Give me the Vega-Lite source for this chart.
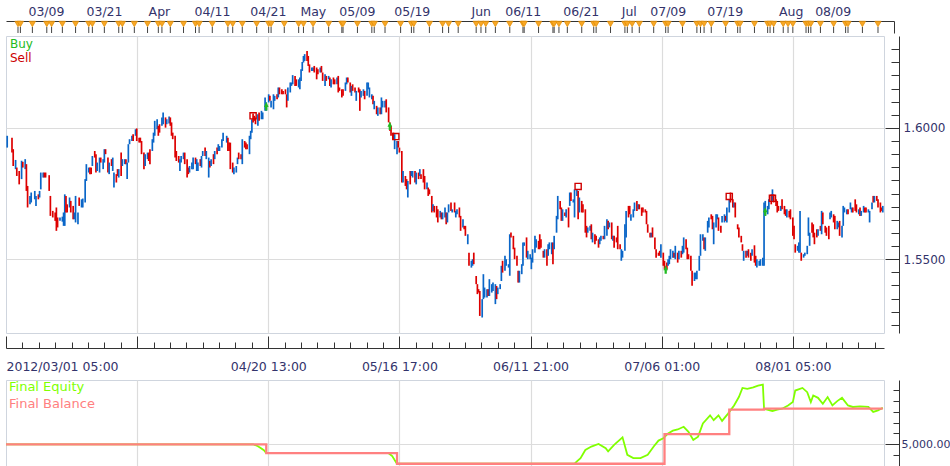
{
"$schema":"https://vega.github.io/schema/vega-lite/v6.json",
"padding":{"left":0,"top":5,"right":0,"bottom":0},
"background":"white",
"spacing":1,
"resolve":{"scale":{"color":"independent","shape":"independent","stroke":"independent"},"legend":{"color":"independent","shape":"independent","stroke":"independent"}},
"config":{"view":{"stroke":"#cfd5de","strokeWidth":1},"font":"DejaVu Sans","axis":{"labelFont":"DejaVu Sans"},"legend":{"labelFont":"DejaVu Sans"}},
"datasets":{
"events":[{"i":10},{"i":12},{"i":22},{"i":34},{"i":38},{"i":47},{"i":58},{"i":69},{"i":72},{"i":82},{"i":94},{"i":97},{"i":107},{"i":118},{"i":127},{"i":130},{"i":137},{"i":148},{"i":158},{"i":161},{"i":172},{"i":185},{"i":189},{"i":197},{"i":209},{"i":219},{"i":221},{"i":232},{"i":244},{"i":248},{"i":256},{"i":269},{"i":280},{"i":281},{"i":293},{"i":305},{"i":307},{"i":316},{"i":329},{"i":338},{"i":340},{"i":353},{"i":364},{"i":369},{"i":377},{"i":392},{"i":396},{"i":400},{"i":408},{"i":420},{"i":431},{"i":432},{"i":444},{"i":456},{"i":457},{"i":461},{"i":468},{"i":480},{"i":490},{"i":492},{"i":504},{"i":516},{"i":518},{"i":522},{"i":528},{"i":540},{"i":550},{"i":552},{"i":564},{"i":576},{"i":579},{"i":582},{"i":588},{"i":600},{"i":610},{"i":612},{"i":624},{"i":635},{"i":637},{"i":640},{"i":648},{"i":652},{"i":656},{"i":667},{"i":669},{"i":671},{"i":679},{"i":690},{"i":700},{"i":702},{"i":714},{"i":727}],
"trades":[{"i":217,"p":1.6081,"type":"Buy"},{"i":320,"p":1.6006,"type":"Buy"},{"i":550,"p":1.5459,"type":"Buy"},{"i":633,"p":1.5680,"type":"Buy"},{"i":206,"p":1.6046,"type":"Sell"},{"i":325,"p":1.5967,"type":"Sell"},{"i":477,"p":1.5777,"type":"Sell"},{"i":603,"p":1.5739,"type":"Sell"},{"i":639,"p":1.5732,"type":"Sell"}],
"equity":[{"i":0,"v":5000,"s":"Final Equity"},{"i":206,"v":5000,"s":"Final Equity"},{"i":210,"v":4982,"s":"Final Equity"},{"i":212,"v":4968,"s":"Final Equity"},{"i":215,"v":4945,"s":"Final Equity"},{"i":217,"v":4918,"s":"Final Equity"},{"i":319,"v":4918,"s":"Final Equity"},{"i":322,"v":4891,"s":"Final Equity"},{"i":324,"v":4855,"s":"Final Equity"},{"i":326,"v":4821,"s":"Final Equity"},{"i":474,"v":4821,"s":"Final Equity"},{"i":476,"v":4843,"s":"Final Equity"},{"i":479,"v":4873,"s":"Final Equity"},{"i":483,"v":4948,"s":"Final Equity"},{"i":488,"v":4979,"s":"Final Equity"},{"i":494,"v":5003,"s":"Final Equity"},{"i":500,"v":4964,"s":"Final Equity"},{"i":502,"v":4934,"s":"Final Equity"},{"i":507,"v":4994,"s":"Final Equity"},{"i":514,"v":5064,"s":"Final Equity"},{"i":518,"v":4903,"s":"Final Equity"},{"i":523,"v":4873,"s":"Final Equity"},{"i":529,"v":4873,"s":"Final Equity"},{"i":535,"v":4903,"s":"Final Equity"},{"i":540,"v":4979,"s":"Final Equity"},{"i":544,"v":5034,"s":"Final Equity"},{"i":548,"v":5055,"s":"Final Equity"},{"i":552,"v":5100,"s":"Final Equity"},{"i":556,"v":5125,"s":"Final Equity"},{"i":560,"v":5136,"s":"Final Equity"},{"i":565,"v":5161,"s":"Final Equity"},{"i":569,"v":5115,"s":"Final Equity"},{"i":573,"v":5039,"s":"Final Equity"},{"i":577,"v":5070,"s":"Final Equity"},{"i":581,"v":5191,"s":"Final Equity"},{"i":587,"v":5266,"s":"Final Equity"},{"i":590,"v":5221,"s":"Final Equity"},{"i":594,"v":5266,"s":"Final Equity"},{"i":597,"v":5215,"s":"Final Equity"},{"i":602,"v":5282,"s":"Final Equity"},{"i":607,"v":5357,"s":"Final Equity"},{"i":611,"v":5434,"s":"Final Equity"},{"i":614,"v":5518,"s":"Final Equity"},{"i":618,"v":5509,"s":"Final Equity"},{"i":623,"v":5524,"s":"Final Equity"},{"i":627,"v":5539,"s":"Final Equity"},{"i":631,"v":5548,"s":"Final Equity"},{"i":632,"v":5327,"s":"Final Equity"},{"i":639,"v":5306,"s":"Final Equity"},{"i":643,"v":5318,"s":"Final Equity"},{"i":647,"v":5327,"s":"Final Equity"},{"i":652,"v":5357,"s":"Final Equity"},{"i":656,"v":5388,"s":"Final Equity"},{"i":658,"v":5494,"s":"Final Equity"},{"i":664,"v":5518,"s":"Final Equity"},{"i":668,"v":5479,"s":"Final Equity"},{"i":671,"v":5388,"s":"Final Equity"},{"i":673,"v":5448,"s":"Final Equity"},{"i":677,"v":5427,"s":"Final Equity"},{"i":681,"v":5373,"s":"Final Equity"},{"i":685,"v":5434,"s":"Final Equity"},{"i":689,"v":5357,"s":"Final Equity"},{"i":693,"v":5397,"s":"Final Equity"},{"i":697,"v":5427,"s":"Final Equity"},{"i":702,"v":5357,"s":"Final Equity"},{"i":706,"v":5343,"s":"Final Equity"},{"i":712,"v":5348,"s":"Final Equity"},{"i":719,"v":5343,"s":"Final Equity"},{"i":723,"v":5297,"s":"Final Equity"},{"i":727,"v":5312,"s":"Final Equity"},{"i":731,"v":5336,"s":"Final Equity"}],
"balance":[{"i":0,"v":5000,"s":"Final Balance"},{"i":217,"v":4918,"s":"Final Balance"},{"i":326,"v":4821,"s":"Final Balance"},{"i":549,"v":5094,"s":"Final Balance"},{"i":603,"v":5318,"s":"Final Balance"},{"i":632,"v":5327,"s":"Final Balance"},{"i":731,"v":5327,"s":"Final Balance"}],
"bars":[
{"i":1,"h":1.5970,"l":1.5925,"d":"up"},{"i":5,"h":1.5963,"l":1.5906,"d":"down"},{"i":6,"h":1.5919,"l":1.5855,"d":"down"},{"i":8,"h":1.5878,"l":1.5843,"d":"up"},{"i":9,"h":1.5849,"l":1.5817,"d":"down"},{"i":11,"h":1.5836,"l":1.5785,"d":"down"},{"i":13,"h":1.5875,"l":1.5805,"d":"up"},{"i":14,"h":1.5871,"l":1.5849,"d":"down"},{"i":16,"h":1.5881,"l":1.5843,"d":"up"},{"i":17,"h":1.5862,"l":1.5760,"d":"down"},
{"i":18,"h":1.5779,"l":1.5697,"d":"down"},{"i":20,"h":1.5741,"l":1.5709,"d":"up"},{"i":21,"h":1.5754,"l":1.5716,"d":"up"},{"i":24,"h":1.5760,"l":1.5728,"d":"up"},{"i":25,"h":1.5741,"l":1.5703,"d":"up"},{"i":27,"h":1.5747,"l":1.5728,"d":"down"},{"i":28,"h":1.5760,"l":1.5735,"d":"up"},{"i":29,"h":1.5830,"l":1.5766,"d":"up"},{"i":31,"h":1.5830,"l":1.5811,"d":"up"},{"i":32,"h":1.5830,"l":1.5811,"d":"down"},
{"i":33,"h":1.5830,"l":1.5811,"d":"down"},{"i":36,"h":1.5820,"l":1.5760,"d":"down"},{"i":37,"h":1.5741,"l":1.5665,"d":"down"},{"i":39,"h":1.5684,"l":1.5659,"d":"down"},{"i":41,"h":1.5678,"l":1.5646,"d":"down"},{"i":42,"h":1.5697,"l":1.5608,"d":"down"},{"i":43,"h":1.5659,"l":1.5621,"d":"down"},{"i":45,"h":1.5659,"l":1.5646,"d":"up"},{"i":47,"h":1.5662,"l":1.5643,"d":"up"},{"i":48,"h":1.5678,"l":1.5627,"d":"up"},
{"i":49,"h":1.5747,"l":1.5627,"d":"up"},{"i":50,"h":1.5741,"l":1.5678,"d":"down"},{"i":51,"h":1.5709,"l":1.5678,"d":"down"},{"i":53,"h":1.5735,"l":1.5697,"d":"up"},{"i":54,"h":1.5722,"l":1.5678,"d":"down"},{"i":56,"h":1.5703,"l":1.5652,"d":"down"},{"i":57,"h":1.5678,"l":1.5652,"d":"up"},{"i":58,"h":1.5741,"l":1.5640,"d":"up"},{"i":60,"h":1.5678,"l":1.5633,"d":"up"},{"i":61,"h":1.5735,"l":1.5703,"d":"down"},
{"i":63,"h":1.5728,"l":1.5697,"d":"up"},{"i":64,"h":1.5731,"l":1.5697,"d":"up"},{"i":66,"h":1.5805,"l":1.5716,"d":"up"},{"i":67,"h":1.5862,"l":1.5798,"d":"up"},{"i":69,"h":1.5849,"l":1.5830,"d":"up"},{"i":70,"h":1.5849,"l":1.5824,"d":"down"},{"i":71,"h":1.5849,"l":1.5824,"d":"down"},{"i":72,"h":1.5893,"l":1.5855,"d":"up"},{"i":74,"h":1.5912,"l":1.5887,"d":"down"},{"i":75,"h":1.5900,"l":1.5830,"d":"down"},
{"i":76,"h":1.5868,"l":1.5836,"d":"up"},{"i":78,"h":1.5887,"l":1.5830,"d":"up"},{"i":79,"h":1.5887,"l":1.5868,"d":"down"},{"i":81,"h":1.5881,"l":1.5843,"d":"up"},{"i":82,"h":1.5919,"l":1.5868,"d":"up"},{"i":83,"h":1.5919,"l":1.5900,"d":"down"},{"i":85,"h":1.5887,"l":1.5830,"d":"down"},{"i":86,"h":1.5868,"l":1.5824,"d":"up"},{"i":88,"h":1.5881,"l":1.5855,"d":"down"},{"i":89,"h":1.5887,"l":1.5836,"d":"up"},
{"i":90,"h":1.5830,"l":1.5773,"d":"up"},{"i":92,"h":1.5824,"l":1.5792,"d":"down"},{"i":93,"h":1.5843,"l":1.5817,"d":"down"},{"i":94,"h":1.5843,"l":1.5811,"d":"up"},{"i":96,"h":1.5906,"l":1.5817,"d":"down"},{"i":97,"h":1.5881,"l":1.5855,"d":"up"},{"i":99,"h":1.5881,"l":1.5862,"d":"up"},{"i":100,"h":1.5881,"l":1.5862,"d":"down"},{"i":101,"h":1.5868,"l":1.5805,"d":"up"},{"i":102,"h":1.5938,"l":1.5868,"d":"up"},
{"i":103,"h":1.5957,"l":1.5938,"d":"up"},{"i":105,"h":1.5970,"l":1.5950,"d":"up"},{"i":106,"h":1.5976,"l":1.5950,"d":"down"},{"i":108,"h":1.5995,"l":1.5970,"d":"up"},{"i":109,"h":1.5998,"l":1.5950,"d":"down"},{"i":111,"h":1.5963,"l":1.5944,"d":"down"},{"i":112,"h":1.5963,"l":1.5944,"d":"down"},{"i":113,"h":1.5950,"l":1.5900,"d":"down"},{"i":115,"h":1.5906,"l":1.5843,"d":"down"},{"i":116,"h":1.5900,"l":1.5855,"d":"up"},
{"i":118,"h":1.5906,"l":1.5881,"d":"up"},{"i":119,"h":1.5906,"l":1.5874,"d":"down"},{"i":120,"h":1.5919,"l":1.5862,"d":"down"},{"i":122,"h":1.5957,"l":1.5912,"d":"up"},{"i":123,"h":1.5982,"l":1.5944,"d":"up"},{"i":124,"h":1.6027,"l":1.5970,"d":"up"},{"i":126,"h":1.6033,"l":1.5995,"d":"up"},{"i":127,"h":1.6008,"l":1.5970,"d":"down"},{"i":128,"h":1.6014,"l":1.5982,"d":"down"},{"i":130,"h":1.6040,"l":1.6008,"d":"up"},
{"i":131,"h":1.6059,"l":1.6014,"d":"up"},{"i":133,"h":1.6040,"l":1.6001,"d":"down"},{"i":134,"h":1.6033,"l":1.6014,"d":"up"},{"i":136,"h":1.6043,"l":1.6017,"d":"up"},{"i":137,"h":1.6040,"l":1.6008,"d":"down"},{"i":138,"h":1.6021,"l":1.5970,"d":"down"},{"i":139,"h":1.5982,"l":1.5957,"d":"down"},{"i":141,"h":1.5970,"l":1.5887,"d":"down"},{"i":142,"h":1.5912,"l":1.5874,"d":"down"},{"i":144,"h":1.5893,"l":1.5868,"d":"down"},
{"i":145,"h":1.5881,"l":1.5836,"d":"up"},{"i":146,"h":1.5893,"l":1.5868,"d":"up"},{"i":148,"h":1.5906,"l":1.5881,"d":"up"},{"i":149,"h":1.5906,"l":1.5862,"d":"down"},{"i":151,"h":1.5881,"l":1.5811,"d":"down"},{"i":152,"h":1.5849,"l":1.5824,"d":"down"},{"i":153,"h":1.5855,"l":1.5830,"d":"up"},{"i":155,"h":1.5868,"l":1.5843,"d":"up"},{"i":156,"h":1.5887,"l":1.5843,"d":"up"},{"i":158,"h":1.5887,"l":1.5862,"d":"down"},
{"i":159,"h":1.5881,"l":1.5836,"d":"up"},{"i":160,"h":1.5868,"l":1.5836,"d":"up"},{"i":162,"h":1.5881,"l":1.5855,"d":"down"},{"i":163,"h":1.5893,"l":1.5849,"d":"up"},{"i":164,"h":1.5912,"l":1.5893,"d":"up"},{"i":166,"h":1.5925,"l":1.5893,"d":"down"},{"i":167,"h":1.5912,"l":1.5881,"d":"up"},{"i":169,"h":1.5887,"l":1.5811,"d":"up"},{"i":170,"h":1.5874,"l":1.5849,"d":"down"},{"i":171,"h":1.5881,"l":1.5855,"d":"up"},
{"i":173,"h":1.5900,"l":1.5862,"d":"down"},{"i":174,"h":1.5912,"l":1.5881,"d":"up"},{"i":176,"h":1.5925,"l":1.5900,"d":"down"},{"i":177,"h":1.5938,"l":1.5912,"d":"up"},{"i":178,"h":1.5931,"l":1.5912,"d":"up"},{"i":180,"h":1.5957,"l":1.5925,"d":"up"},{"i":181,"h":1.5982,"l":1.5950,"d":"up"},{"i":184,"h":1.5970,"l":1.5944,"d":"up"},{"i":185,"h":1.5963,"l":1.5912,"d":"down"},{"i":186,"h":1.5944,"l":1.5912,"d":"down"},
{"i":187,"h":1.5944,"l":1.5843,"d":"down"},{"i":189,"h":1.5868,"l":1.5830,"d":"down"},{"i":190,"h":1.5849,"l":1.5824,"d":"up"},{"i":192,"h":1.5855,"l":1.5830,"d":"up"},{"i":193,"h":1.5887,"l":1.5862,"d":"up"},{"i":194,"h":1.5906,"l":1.5881,"d":"down"},{"i":196,"h":1.5900,"l":1.5881,"d":"down"},{"i":197,"h":1.5957,"l":1.5862,"d":"up"},{"i":199,"h":1.5950,"l":1.5925,"d":"down"},{"i":200,"h":1.5944,"l":1.5919,"d":"down"},
{"i":201,"h":1.5938,"l":1.5919,"d":"down"},{"i":203,"h":1.5970,"l":1.5900,"d":"up"},{"i":204,"h":1.5989,"l":1.5957,"d":"up"},{"i":205,"h":1.6033,"l":1.5982,"d":"up"},{"i":206,"h":1.6055,"l":1.6021,"d":"down"},{"i":207,"h":1.6046,"l":1.6027,"d":"down"},{"i":208,"h":1.6040,"l":1.6014,"d":"down"},{"i":210,"h":1.6052,"l":1.6008,"d":"up"},{"i":211,"h":1.6059,"l":1.6027,"d":"down"},{"i":213,"h":1.6065,"l":1.6033,"d":"up"},
{"i":214,"h":1.6059,"l":1.6033,"d":"up"},{"i":216,"h":1.6116,"l":1.6065,"d":"up"},{"i":217,"h":1.6097,"l":1.6065,"d":"up"},{"i":219,"h":1.6128,"l":1.6097,"d":"up"},{"i":220,"h":1.6122,"l":1.6103,"d":"down"},{"i":221,"h":1.6103,"l":1.6078,"d":"up"},{"i":223,"h":1.6128,"l":1.6071,"d":"up"},{"i":224,"h":1.6122,"l":1.6103,"d":"up"},{"i":226,"h":1.6128,"l":1.6109,"d":"down"},{"i":227,"h":1.6154,"l":1.6116,"d":"up"},
{"i":228,"h":1.6154,"l":1.6128,"d":"down"},{"i":230,"h":1.6147,"l":1.6128,"d":"down"},{"i":231,"h":1.6141,"l":1.6128,"d":"down"},{"i":233,"h":1.6147,"l":1.6128,"d":"down"},{"i":234,"h":1.6128,"l":1.6078,"d":"down"},{"i":235,"h":1.6154,"l":1.6103,"d":"up"},{"i":237,"h":1.6173,"l":1.6135,"d":"up"},{"i":238,"h":1.6173,"l":1.6160,"d":"up"},{"i":239,"h":1.6201,"l":1.6166,"d":"up"},{"i":241,"h":1.6198,"l":1.6160,"d":"down"},
{"i":242,"h":1.6185,"l":1.6160,"d":"down"},{"i":244,"h":1.6185,"l":1.6154,"d":"up"},{"i":245,"h":1.6192,"l":1.6147,"d":"up"},{"i":246,"h":1.6223,"l":1.6179,"d":"up"},{"i":247,"h":1.6251,"l":1.6217,"d":"up"},{"i":248,"h":1.6274,"l":1.6249,"d":"up"},{"i":249,"h":1.6281,"l":1.6255,"d":"up"},{"i":251,"h":1.6293,"l":1.6255,"d":"down"},{"i":252,"h":1.6274,"l":1.6236,"d":"down"},{"i":253,"h":1.6242,"l":1.6211,"d":"down"},
{"i":255,"h":1.6230,"l":1.6217,"d":"up"},{"i":256,"h":1.6230,"l":1.6217,"d":"up"},{"i":257,"h":1.6236,"l":1.6211,"d":"down"},{"i":259,"h":1.6230,"l":1.6185,"d":"down"},{"i":260,"h":1.6223,"l":1.6204,"d":"down"},{"i":262,"h":1.6230,"l":1.6211,"d":"up"},{"i":263,"h":1.6236,"l":1.6211,"d":"down"},{"i":264,"h":1.6211,"l":1.6179,"d":"down"},{"i":266,"h":1.6204,"l":1.6160,"d":"up"},{"i":267,"h":1.6198,"l":1.6179,"d":"down"},
{"i":269,"h":1.6198,"l":1.6185,"d":"up"},{"i":270,"h":1.6192,"l":1.6160,"d":"down"},{"i":271,"h":1.6185,"l":1.6154,"d":"up"},{"i":273,"h":1.6192,"l":1.6166,"d":"down"},{"i":274,"h":1.6185,"l":1.6166,"d":"down"},{"i":276,"h":1.6192,"l":1.6166,"d":"up"},{"i":277,"h":1.6198,"l":1.6135,"d":"down"},{"i":278,"h":1.6154,"l":1.6141,"d":"down"},{"i":280,"h":1.6147,"l":1.6116,"d":"down"},{"i":281,"h":1.6147,"l":1.6122,"d":"down"},
{"i":283,"h":1.6173,"l":1.6141,"d":"up"},{"i":284,"h":1.6192,"l":1.6166,"d":"up"},{"i":285,"h":1.6192,"l":1.6173,"d":"down"},{"i":287,"h":1.6173,"l":1.6135,"d":"down"},{"i":288,"h":1.6160,"l":1.6122,"d":"up"},{"i":289,"h":1.6166,"l":1.6141,"d":"down"},{"i":291,"h":1.6154,"l":1.6135,"d":"down"},{"i":292,"h":1.6141,"l":1.6103,"d":"up"},{"i":294,"h":1.6154,"l":1.6135,"d":"down"},{"i":295,"h":1.6147,"l":1.6065,"d":"down"},
{"i":296,"h":1.6141,"l":1.6116,"d":"up"},{"i":298,"h":1.6147,"l":1.6122,"d":"up"},{"i":299,"h":1.6141,"l":1.6109,"d":"down"},{"i":301,"h":1.6173,"l":1.6122,"d":"up"},{"i":302,"h":1.6173,"l":1.6147,"d":"up"},{"i":303,"h":1.6154,"l":1.6116,"d":"up"},{"i":305,"h":1.6128,"l":1.6109,"d":"up"},{"i":306,"h":1.6122,"l":1.6090,"d":"down"},{"i":307,"h":1.6103,"l":1.6071,"d":"up"},{"i":309,"h":1.6084,"l":1.6052,"d":"down"},
{"i":310,"h":1.6078,"l":1.6046,"d":"up"},{"i":312,"h":1.6078,"l":1.6052,"d":"down"},{"i":313,"h":1.6116,"l":1.6052,"d":"up"},{"i":314,"h":1.6103,"l":1.6078,"d":"up"},{"i":316,"h":1.6103,"l":1.6078,"d":"up"},{"i":317,"h":1.6109,"l":1.6059,"d":"down"},{"i":319,"h":1.6078,"l":1.6021,"d":"down"},{"i":320,"h":1.6021,"l":1.5989,"d":"down"},{"i":321,"h":1.6008,"l":1.5970,"d":"down"},{"i":323,"h":1.5982,"l":1.5957,"d":"down"},
{"i":324,"h":1.5976,"l":1.5919,"d":"up"},{"i":326,"h":1.5950,"l":1.5900,"d":"up"},{"i":327,"h":1.5950,"l":1.5925,"d":"down"},{"i":328,"h":1.5925,"l":1.5906,"d":"down"},{"i":330,"h":1.5912,"l":1.5792,"d":"down"},{"i":331,"h":1.5836,"l":1.5792,"d":"up"},{"i":333,"h":1.5817,"l":1.5779,"d":"down"},{"i":334,"h":1.5805,"l":1.5766,"d":"down"},{"i":335,"h":1.5798,"l":1.5735,"d":"up"},{"i":337,"h":1.5836,"l":1.5785,"d":"down"},
{"i":338,"h":1.5836,"l":1.5817,"d":"up"},{"i":339,"h":1.5836,"l":1.5811,"d":"up"},{"i":341,"h":1.5836,"l":1.5792,"d":"down"},{"i":342,"h":1.5830,"l":1.5785,"d":"up"},{"i":344,"h":1.5830,"l":1.5805,"d":"down"},{"i":345,"h":1.5843,"l":1.5817,"d":"up"},{"i":346,"h":1.5824,"l":1.5805,"d":"down"},{"i":348,"h":1.5843,"l":1.5792,"d":"down"},{"i":349,"h":1.5817,"l":1.5766,"d":"down"},{"i":351,"h":1.5792,"l":1.5766,"d":"up"},
{"i":352,"h":1.5773,"l":1.5741,"d":"down"},{"i":353,"h":1.5766,"l":1.5747,"d":"down"},{"i":355,"h":1.5741,"l":1.5678,"d":"down"},{"i":356,"h":1.5709,"l":1.5684,"d":"up"},{"i":357,"h":1.5703,"l":1.5678,"d":"down"},{"i":359,"h":1.5703,"l":1.5659,"d":"down"},{"i":360,"h":1.5690,"l":1.5640,"d":"down"},{"i":362,"h":1.5684,"l":1.5659,"d":"up"},{"i":363,"h":1.5678,"l":1.5652,"d":"down"},{"i":364,"h":1.5678,"l":1.5652,"d":"up"},
{"i":366,"h":1.5697,"l":1.5659,"d":"up"},{"i":367,"h":1.5678,"l":1.5633,"d":"down"},{"i":368,"h":1.5678,"l":1.5640,"d":"up"},{"i":369,"h":1.5709,"l":1.5678,"d":"up"},{"i":371,"h":1.5716,"l":1.5684,"d":"down"},{"i":372,"h":1.5690,"l":1.5678,"d":"up"},{"i":374,"h":1.5716,"l":1.5678,"d":"down"},{"i":375,"h":1.5684,"l":1.5659,"d":"up"},{"i":376,"h":1.5690,"l":1.5671,"d":"up"},{"i":378,"h":1.5697,"l":1.5659,"d":"down"},
{"i":379,"h":1.5665,"l":1.5608,"d":"down"},{"i":381,"h":1.5652,"l":1.5621,"d":"up"},{"i":382,"h":1.5627,"l":1.5614,"d":"down"},{"i":383,"h":1.5627,"l":1.5589,"d":"down"},{"i":385,"h":1.5595,"l":1.5557,"d":"up"},{"i":386,"h":1.5525,"l":1.5475,"d":"down"},{"i":388,"h":1.5494,"l":1.5468,"d":"up"},{"i":389,"h":1.5500,"l":1.5475,"d":"up"},{"i":390,"h":1.5525,"l":1.5481,"d":"down"},{"i":392,"h":1.5436,"l":1.5405,"d":"down"},
{"i":393,"h":1.5405,"l":1.5367,"d":"down"},{"i":394,"h":1.5386,"l":1.5373,"d":"down"},{"i":395,"h":1.5379,"l":1.5284,"d":"down"},{"i":397,"h":1.5348,"l":1.5278,"d":"up"},{"i":398,"h":1.5443,"l":1.5348,"d":"up"},{"i":399,"h":1.5392,"l":1.5354,"d":"up"},{"i":401,"h":1.5386,"l":1.5354,"d":"up"},{"i":402,"h":1.5386,"l":1.5360,"d":"down"},{"i":403,"h":1.5424,"l":1.5360,"d":"up"},{"i":405,"h":1.5405,"l":1.5373,"d":"up"},
{"i":406,"h":1.5411,"l":1.5379,"d":"up"},{"i":408,"h":1.5405,"l":1.5329,"d":"up"},{"i":409,"h":1.5398,"l":1.5348,"d":"down"},{"i":410,"h":1.5392,"l":1.5367,"d":"up"},{"i":412,"h":1.5405,"l":1.5386,"d":"up"},{"i":413,"h":1.5475,"l":1.5417,"d":"up"},{"i":414,"h":1.5494,"l":1.5449,"d":"down"},{"i":416,"h":1.5513,"l":1.5456,"d":"up"},{"i":417,"h":1.5500,"l":1.5475,"d":"up"},{"i":419,"h":1.5481,"l":1.5468,"d":"up"},
{"i":420,"h":1.5595,"l":1.5437,"d":"up"},{"i":421,"h":1.5602,"l":1.5583,"d":"down"},{"i":423,"h":1.5589,"l":1.5538,"d":"down"},{"i":424,"h":1.5544,"l":1.5500,"d":"down"},{"i":426,"h":1.5513,"l":1.5475,"d":"down"},{"i":427,"h":1.5456,"l":1.5411,"d":"down"},{"i":428,"h":1.5456,"l":1.5411,"d":"up"},{"i":430,"h":1.5481,"l":1.5443,"d":"up"},{"i":431,"h":1.5564,"l":1.5475,"d":"up"},{"i":432,"h":1.5564,"l":1.5551,"d":"up"},
{"i":434,"h":1.5583,"l":1.5506,"d":"down"},{"i":435,"h":1.5532,"l":1.5500,"d":"up"},{"i":437,"h":1.5519,"l":1.5500,"d":"up"},{"i":438,"h":1.5506,"l":1.5462,"d":"up"},{"i":439,"h":1.5538,"l":1.5487,"d":"up"},{"i":441,"h":1.5589,"l":1.5525,"d":"up"},{"i":442,"h":1.5576,"l":1.5544,"d":"up"},{"i":444,"h":1.5570,"l":1.5538,"d":"down"},{"i":445,"h":1.5595,"l":1.5538,"d":"down"},{"i":446,"h":1.5576,"l":1.5544,"d":"down"},
{"i":448,"h":1.5532,"l":1.5506,"d":"down"},{"i":449,"h":1.5538,"l":1.5506,"d":"up"},{"i":451,"h":1.5538,"l":1.5475,"d":"down"},{"i":452,"h":1.5557,"l":1.5513,"d":"up"},{"i":453,"h":1.5564,"l":1.5538,"d":"up"},{"i":455,"h":1.5564,"l":1.5519,"d":"up"},{"i":456,"h":1.5564,"l":1.5481,"d":"down"},{"i":457,"h":1.5589,"l":1.5538,"d":"up"},{"i":459,"h":1.5665,"l":1.5601,"d":"up"},{"i":460,"h":1.5741,"l":1.5652,"d":"up"},
{"i":462,"h":1.5722,"l":1.5690,"d":"down"},{"i":463,"h":1.5697,"l":1.5646,"d":"down"},{"i":464,"h":1.5690,"l":1.5646,"d":"up"},{"i":466,"h":1.5678,"l":1.5665,"d":"down"},{"i":467,"h":1.5690,"l":1.5659,"d":"up"},{"i":469,"h":1.5697,"l":1.5621,"d":"down"},{"i":470,"h":1.5754,"l":1.5703,"d":"up"},{"i":471,"h":1.5754,"l":1.5722,"d":"down"},{"i":473,"h":1.5728,"l":1.5716,"d":"up"},{"i":474,"h":1.5766,"l":1.5659,"d":"up"},
{"i":476,"h":1.5766,"l":1.5741,"d":"up"},{"i":477,"h":1.5760,"l":1.5652,"d":"down"},{"i":478,"h":1.5735,"l":1.5678,"d":"up"},{"i":480,"h":1.5722,"l":1.5678,"d":"down"},{"i":481,"h":1.5709,"l":1.5678,"d":"down"},{"i":483,"h":1.5690,"l":1.5601,"d":"down"},{"i":484,"h":1.5627,"l":1.5583,"d":"down"},{"i":485,"h":1.5621,"l":1.5601,"d":"up"},{"i":487,"h":1.5627,"l":1.5608,"d":"up"},{"i":488,"h":1.5633,"l":1.5576,"d":"down"},
{"i":489,"h":1.5601,"l":1.5564,"d":"up"},{"i":491,"h":1.5595,"l":1.5557,"d":"down"},{"i":492,"h":1.5589,"l":1.5570,"d":"down"},{"i":494,"h":1.5576,"l":1.5544,"d":"down"},{"i":495,"h":1.5583,"l":1.5557,"d":"up"},{"i":496,"h":1.5589,"l":1.5570,"d":"up"},{"i":498,"h":1.5589,"l":1.5576,"d":"down"},{"i":499,"h":1.5627,"l":1.5576,"d":"up"},{"i":501,"h":1.5652,"l":1.5589,"d":"up"},{"i":502,"h":1.5646,"l":1.5614,"d":"down"},
{"i":503,"h":1.5640,"l":1.5621,"d":"up"},{"i":505,"h":1.5640,"l":1.5576,"d":"down"},{"i":506,"h":1.5589,"l":1.5570,"d":"up"},{"i":507,"h":1.5589,"l":1.5544,"d":"down"},{"i":509,"h":1.5583,"l":1.5564,"d":"down"},{"i":510,"h":1.5627,"l":1.5538,"d":"down"},{"i":512,"h":1.5557,"l":1.5538,"d":"down"},{"i":513,"h":1.5538,"l":1.5494,"d":"up"},{"i":514,"h":1.5532,"l":1.5506,"d":"up"},{"i":516,"h":1.5633,"l":1.5532,"d":"up"},
{"i":517,"h":1.5684,"l":1.5583,"d":"up"},{"i":519,"h":1.5703,"l":1.5659,"d":"down"},{"i":520,"h":1.5703,"l":1.5671,"d":"down"},{"i":521,"h":1.5671,"l":1.5646,"d":"up"},{"i":523,"h":1.5690,"l":1.5659,"d":"up"},{"i":524,"h":1.5716,"l":1.5684,"d":"up"},{"i":526,"h":1.5722,"l":1.5684,"d":"down"},{"i":527,"h":1.5709,"l":1.5690,"d":"up"},{"i":528,"h":1.5709,"l":1.5690,"d":"down"},{"i":530,"h":1.5697,"l":1.5665,"d":"down"},
{"i":531,"h":1.5697,"l":1.5678,"d":"down"},{"i":533,"h":1.5690,"l":1.5678,"d":"down"},{"i":534,"h":1.5684,"l":1.5633,"d":"down"},{"i":535,"h":1.5633,"l":1.5601,"d":"down"},{"i":537,"h":1.5601,"l":1.5583,"d":"down"},{"i":538,"h":1.5601,"l":1.5583,"d":"up"},{"i":539,"h":1.5621,"l":1.5583,"d":"down"},{"i":541,"h":1.5583,"l":1.5538,"d":"down"},{"i":542,"h":1.5538,"l":1.5506,"d":"down"},{"i":544,"h":1.5525,"l":1.5513,"d":"down"},
{"i":545,"h":1.5532,"l":1.5513,"d":"down"},{"i":546,"h":1.5557,"l":1.5506,"d":"up"},{"i":548,"h":1.5525,"l":1.5475,"d":"down"},{"i":549,"h":1.5494,"l":1.5462,"d":"down"},{"i":551,"h":1.5487,"l":1.5462,"d":"down"},{"i":552,"h":1.5500,"l":1.5475,"d":"up"},{"i":553,"h":1.5513,"l":1.5481,"d":"up"},{"i":554,"h":1.5538,"l":1.5500,"d":"up"},{"i":556,"h":1.5532,"l":1.5506,"d":"up"},{"i":557,"h":1.5525,"l":1.5506,"d":"down"},
{"i":558,"h":1.5551,"l":1.5500,"d":"up"},{"i":560,"h":1.5525,"l":1.5487,"d":"down"},{"i":561,"h":1.5532,"l":1.5500,"d":"up"},{"i":563,"h":1.5532,"l":1.5506,"d":"down"},{"i":564,"h":1.5551,"l":1.5519,"d":"up"},{"i":565,"h":1.5583,"l":1.5525,"d":"up"},{"i":567,"h":1.5576,"l":1.5538,"d":"down"},{"i":568,"h":1.5544,"l":1.5500,"d":"down"},{"i":569,"h":1.5519,"l":1.5500,"d":"down"},{"i":571,"h":1.5513,"l":1.5456,"d":"down"},
{"i":572,"h":1.5456,"l":1.5399,"d":"down"},{"i":574,"h":1.5449,"l":1.5417,"d":"up"},{"i":575,"h":1.5449,"l":1.5424,"d":"up"},{"i":576,"h":1.5456,"l":1.5424,"d":"up"},{"i":578,"h":1.5513,"l":1.5456,"d":"up"},{"i":579,"h":1.5595,"l":1.5513,"d":"up"},{"i":581,"h":1.5595,"l":1.5570,"d":"up"},{"i":582,"h":1.5583,"l":1.5538,"d":"down"},{"i":583,"h":1.5583,"l":1.5532,"d":"up"},{"i":585,"h":1.5646,"l":1.5601,"d":"up"},
{"i":586,"h":1.5659,"l":1.5621,"d":"up"},{"i":588,"h":1.5671,"l":1.5652,"d":"down"},{"i":589,"h":1.5665,"l":1.5614,"d":"down"},{"i":590,"h":1.5640,"l":1.5557,"d":"up"},{"i":592,"h":1.5671,"l":1.5621,"d":"up"},{"i":593,"h":1.5671,"l":1.5652,"d":"up"},{"i":594,"h":1.5659,"l":1.5608,"d":"down"},{"i":596,"h":1.5627,"l":1.5601,"d":"down"},{"i":597,"h":1.5665,"l":1.5640,"d":"up"},{"i":599,"h":1.5671,"l":1.5640,"d":"up"},
{"i":600,"h":1.5665,"l":1.5646,"d":"down"},{"i":601,"h":1.5697,"l":1.5640,"d":"up"},{"i":603,"h":1.5728,"l":1.5678,"d":"up"},{"i":604,"h":1.5754,"l":1.5716,"d":"down"},{"i":606,"h":1.5728,"l":1.5697,"d":"down"},{"i":607,"h":1.5716,"l":1.5697,"d":"up"},{"i":608,"h":1.5716,"l":1.5659,"d":"down"},{"i":610,"h":1.5633,"l":1.5614,"d":"down"},{"i":611,"h":1.5621,"l":1.5583,"d":"down"},{"i":613,"h":1.5589,"l":1.5564,"d":"down"},
{"i":614,"h":1.5557,"l":1.5532,"d":"down"},{"i":615,"h":1.5532,"l":1.5494,"d":"up"},{"i":617,"h":1.5532,"l":1.5506,"d":"down"},{"i":618,"h":1.5532,"l":1.5513,"d":"up"},{"i":619,"h":1.5538,"l":1.5506,"d":"down"},{"i":621,"h":1.5525,"l":1.5494,"d":"down"},{"i":622,"h":1.5538,"l":1.5513,"d":"up"},{"i":624,"h":1.5553,"l":1.5487,"d":"down"},{"i":625,"h":1.5513,"l":1.5475,"d":"down"},{"i":626,"h":1.5500,"l":1.5468,"d":"up"},
{"i":628,"h":1.5494,"l":1.5475,"d":"up"},{"i":629,"h":1.5500,"l":1.5475,"d":"up"},{"i":631,"h":1.5506,"l":1.5475,"d":"up"},{"i":632,"h":1.5716,"l":1.5475,"d":"up"},{"i":633,"h":1.5722,"l":1.5665,"d":"up"},{"i":635,"h":1.5703,"l":1.5671,"d":"up"},{"i":636,"h":1.5728,"l":1.5690,"d":"up"},{"i":638,"h":1.5747,"l":1.5709,"d":"down"},{"i":639,"h":1.5766,"l":1.5722,"d":"up"},{"i":640,"h":1.5747,"l":1.5716,"d":"down"},
{"i":642,"h":1.5728,"l":1.5703,"d":"down"},{"i":643,"h":1.5722,"l":1.5678,"d":"down"},{"i":644,"h":1.5703,"l":1.5684,"d":"down"},{"i":646,"h":1.5703,"l":1.5684,"d":"up"},{"i":647,"h":1.5728,"l":1.5690,"d":"down"},{"i":649,"h":1.5703,"l":1.5671,"d":"down"},{"i":650,"h":1.5690,"l":1.5665,"d":"down"},{"i":651,"h":1.5690,"l":1.5659,"d":"up"},{"i":653,"h":1.5684,"l":1.5659,"d":"down"},{"i":654,"h":1.5690,"l":1.5652,"d":"down"},
{"i":656,"h":1.5659,"l":1.5589,"d":"down"},{"i":657,"h":1.5627,"l":1.5576,"d":"down"},{"i":658,"h":1.5557,"l":1.5525,"d":"down"},{"i":660,"h":1.5551,"l":1.5532,"d":"up"},{"i":661,"h":1.5564,"l":1.5525,"d":"up"},{"i":662,"h":1.5684,"l":1.5525,"d":"up"},{"i":663,"h":1.5525,"l":1.5494,"d":"down"},{"i":665,"h":1.5519,"l":1.5506,"d":"up"},{"i":666,"h":1.5525,"l":1.5513,"d":"up"},{"i":668,"h":1.5551,"l":1.5519,"d":"up"},
{"i":669,"h":1.5659,"l":1.5589,"d":"up"},{"i":670,"h":1.5601,"l":1.5551,"d":"up"},{"i":672,"h":1.5640,"l":1.5601,"d":"down"},{"i":673,"h":1.5633,"l":1.5583,"d":"down"},{"i":674,"h":1.5601,"l":1.5557,"d":"down"},{"i":676,"h":1.5614,"l":1.5583,"d":"down"},{"i":677,"h":1.5614,"l":1.5589,"d":"up"},{"i":679,"h":1.5627,"l":1.5608,"d":"down"},{"i":680,"h":1.5684,"l":1.5595,"d":"up"},{"i":681,"h":1.5678,"l":1.5633,"d":"down"},
{"i":683,"h":1.5627,"l":1.5601,"d":"down"},{"i":684,"h":1.5621,"l":1.5589,"d":"down"},{"i":686,"h":1.5627,"l":1.5576,"d":"down"},{"i":687,"h":1.5678,"l":1.5652,"d":"up"},{"i":688,"h":1.5684,"l":1.5659,"d":"up"},{"i":690,"h":1.5671,"l":1.5640,"d":"down"},{"i":691,"h":1.5665,"l":1.5614,"d":"down"},{"i":693,"h":1.5646,"l":1.5614,"d":"up"},{"i":694,"h":1.5640,"l":1.5621,"d":"up"},{"i":695,"h":1.5646,"l":1.5589,"d":"down"},
{"i":697,"h":1.5627,"l":1.5583,"d":"up"},{"i":698,"h":1.5703,"l":1.5627,"d":"up"},{"i":699,"h":1.5697,"l":1.5678,"d":"up"},{"i":701,"h":1.5690,"l":1.5671,"d":"up"},{"i":702,"h":1.5690,"l":1.5671,"d":"down"},{"i":704,"h":1.5716,"l":1.5690,"d":"up"},{"i":705,"h":1.5697,"l":1.5678,"d":"up"},{"i":706,"h":1.5697,"l":1.5678,"d":"down"},{"i":708,"h":1.5728,"l":1.5684,"d":"down"},{"i":709,"h":1.5709,"l":1.5678,"d":"down"},
{"i":711,"h":1.5690,"l":1.5671,"d":"up"},{"i":712,"h":1.5697,"l":1.5665,"d":"down"},{"i":713,"h":1.5684,"l":1.5665,"d":"up"},{"i":715,"h":1.5703,"l":1.5678,"d":"up"},{"i":716,"h":1.5697,"l":1.5678,"d":"down"},{"i":717,"h":1.5697,"l":1.5678,"d":"down"},{"i":719,"h":1.5690,"l":1.5678,"d":"up"},{"i":720,"h":1.5684,"l":1.5640,"d":"up"},{"i":722,"h":1.5716,"l":1.5690,"d":"up"},{"i":723,"h":1.5741,"l":1.5716,"d":"down"},
{"i":724,"h":1.5741,"l":1.5716,"d":"up"},{"i":726,"h":1.5741,"l":1.5722,"d":"down"},{"i":727,"h":1.5728,"l":1.5697,"d":"down"},{"i":729,"h":1.5716,"l":1.5678,"d":"down"},{"i":730,"h":1.5697,"l":1.5684,"d":"down"},{"i":731,"h":1.5703,"l":1.5678,"d":"up"}
]
},
"vconcat":[
{
"width":888,"height":12,
"view":{"stroke":null},
"data":{"name":"events"},
"layer":[
{"mark":{"type":"rule","color":"#444444","strokeWidth":1},
"encoding":{
"x":{"field":"i","type":"quantitative","scale":{"domain":[0,740.34],"nice":false,"zero":false},
"axis":{"orient":"top","title":null,"tickCount":1000,"values":[33.3,81.7,127.5,171.7,218.3,255.8,292.5,338.3,395.8,430.8,479.2,519.2,551.7,599.2,654.2,689.2],
"labelExpr":"['03/09','03/21','Apr','04/11','04/21','May','05/09','05/19','Jun','06/11','06/21','Jul','07/09','07/19','Aug','08/09'][indexof([33.3,81.7,127.5,171.7,218.3,255.8,292.5,338.3,395.8,430.8,479.2,519.2,551.7,599.2,654.2,689.2], datum.value)]",
"ticks":false,"tickSize":0,"grid":false,"domainColor":"#333333","domainWidth":1,"labelPadding":6,"labelBaseline":"alphabetic","labelFontSize":12.5,"labelColor":"#33336b","labelOverlap":false,"labelFlush":false}},
"y":{"datum":0,"type":"quantitative","scale":{"domain":[0,1],"nice":false,"zero":false},"axis":{"orient":"right","title":null,"labels":false,"ticks":false,"grid":false,"domainColor":"#333333"}},
"y2":{"datum":0.5}
}},
{"mark":{"type":"point","shape":"triangle-down","filled":true,"fill":"#f9a825","stroke":"#e08a00","strokeWidth":0.7,"size":40,"opacity":1},
"encoding":{"x":{"field":"i","type":"quantitative","title":null},"y":{"datum":0.75,"type":"quantitative","title":null}}}
]
},
{
"width":878,"height":297,
"layer":[
{"data":{"name":"bars"},
"mark":{"type":"rule","strokeWidth":1.7},
"encoding":{
"x":{"field":"i","type":"quantitative","scale":{"domain":[0,732],"nice":false,"zero":false},
"axis":{"title":null,"tickCount":1000,"values":[109.333,218.667,328,437.333,546.667,656],"labels":false,"ticks":false,"domain":false,"grid":true,"gridColor":"#dcdcdc","gridWidth":1.2}},
"y":{"field":"h","type":"quantitative","scale":{"domain":[1.5219,1.635],"nice":false,"zero":false},
"axis":{"orient":"right","title":null,"offset":15,"tickCount":1000,"values":[1.525,1.53,1.535,1.54,1.545,1.55,1.555,1.56,1.565,1.57,1.575,1.58,1.585,1.59,1.595,1.6,1.605,1.61,1.615,1.62,1.625,1.63],
"tickSize":{"condition":{"test":"abs(datum.value*20 - round(datum.value*20)) < 0.0001","value":-14},"value":-8},
"tickColor":"#333333","domainColor":"#333333",
"labelExpr":"abs(datum.value*20 - round(datum.value*20)) < 0.0001 ? format(datum.value, '.4f') : ''",
"labelFontSize":{"condition":{"test":"abs(datum.value*20 - round(datum.value*20)) < 0.0001","value":12},"value":0},
"labelPadding":18,"labelColor":"#33336b","labelOverlap":false,"labelFlush":false,
"grid":true,"gridColor":"#dcdcdc","gridWidth":1.2,
"gridOpacity":{"condition":{"test":"abs(datum.value*20 - round(datum.value*20)) < 0.0001","value":1},"value":0}}},
"y2":{"field":"l"},
"stroke":{"field":"d","type":"nominal","scale":{"domain":["up","down"],"range":["#0a66c8","#dd0000"]},"legend":null}
}},
{"data":{"name":"trades"},
"mark":{"type":"point","filled":false,"strokeWidth":1.4,"size":38,"opacity":1},
"encoding":{
"x":{"field":"i","type":"quantitative","title":null},
"y":{"field":"p","type":"quantitative","title":null},
"color":{"field":"type","type":"nominal","scale":{"domain":["Buy","Sell"],"range":["#22bb22","#d00000"]},
"legend":{"orient":"top-left","offset":2,"title":null,"padding":0,"symbolSize":0,"symbolOpacity":0,"symbolStrokeWidth":0,"labelOffset":-10,"labelFontSize":12,"rowPadding":2,
"labelColor":{"expr":"datum.value === 'Buy' ? '#22bb22' : '#cc0000'"},
"encode":{"labels":{"update":{"fill":{"signal":"datum.value === 'Buy' ? '#22bb22' : '#cc0000'"}}}}}},
"shape":{"field":"type","type":"nominal","scale":{"domain":["Buy","Sell"],"range":["arrow","square"]},"legend":null}
}}
]
},
{
"width":878,"height":89,
"layer":[
{"data":{"name":"equity"},
"mark":{"type":"line","strokeWidth":1.8,"interpolate":"linear"},
"encoding":{
"x":{"field":"i","type":"quantitative","scale":{"domain":[0,732],"nice":false,"zero":false},
"axis":{"orient":"top","offset":32,"title":null,"tickCount":1000,
"values":[0,13.667,27.333,41,54.667,68.333,82,95.667,109.333,123,136.667,150.333,164,177.667,191.333,205,218.667,232.333,246,259.667,273.333,287,300.667,314.333,328,341.667,355.333,369,382.667,396.333,410,423.667,437.333,451,464.667,478.333,492,505.667,519.333,533,546.667,560.333,574,587.667,601.333,615,628.667,642.333,656,669.667,683.333,697,710.667,724.333],
"tickSize":{"condition":{"test":"abs(datum.value/109.3333 - round(datum.value/109.3333)) < 0.01","value":12},"value":6},
"tickColor":"#333333","domainColor":"#333333",
"labelExpr":"(abs(datum.value/109.3333 - round(datum.value/109.3333)) < 0.01) ? ['2012/03/01 05:00','','04/20 13:00','05/16 17:00','06/11 21:00','07/06 01:00','08/01 05:00'][round(datum.value/109.3333)] : ''",
"labelFlush":true,"labelOverlap":false,"labelPadding":-24,"labelBaseline":"top","labelFontSize":12.5,"labelColor":"#33336b",
"grid":true,"gridColor":"#dcdcdc","gridWidth":1.2,
"gridOpacity":{"condition":{"test":"datum.value > 1 && abs(datum.value/109.3333 - round(datum.value/109.3333)) < 0.01","value":1},"value":0}}},
"y":{"field":"v","type":"quantitative","scale":{"domain":[4772.7,5590.9],"nice":false,"zero":false},
"axis":{"orient":"right","title":null,"offset":15,"tickCount":1000,"values":[4800,4900,5000,5100,5200,5300,5400,5500],
"tickSize":{"condition":{"test":"datum.value === 5000","value":-14},"value":-6},
"tickColor":"#333333","domainColor":"#333333",
"labelExpr":"datum.value === 5000 ? format(datum.value, ',.2f') : ''",
"labelFontSize":{"condition":{"test":"datum.value === 5000","value":11},"value":0},
"labelPadding":16,"labelColor":"#33336b","labelOverlap":false,"labelFlush":false,
"grid":true,"gridColor":"#dcdcdc","gridWidth":1.2,
"gridOpacity":{"condition":{"test":"datum.value === 5000","value":1},"value":0}}},
"color":{"field":"s","type":"nominal","scale":{"domain":["Final Equity","Final Balance"],"range":["#80ff00","#ff8080"]},
"legend":{"orient":"top-left","offset":0,"title":null,"padding":0,"symbolSize":0,"symbolOpacity":0,"symbolStrokeWidth":0,"labelOffset":-10,"labelFontSize":13,"rowPadding":3.5,
"encode":{"labels":{"update":{"fill":{"signal":"datum.value === 'Final Equity' ? '#80ff00' : '#ff8080'"}}}}}}
}},
{"data":{"name":"balance"},
"mark":{"type":"line","strokeWidth":2.3,"interpolate":"step-after"},
"encoding":{
"x":{"field":"i","type":"quantitative","title":null},
"y":{"field":"v","type":"quantitative","title":null},
"color":{"field":"s","type":"nominal"}
}}
]
}
]
}
